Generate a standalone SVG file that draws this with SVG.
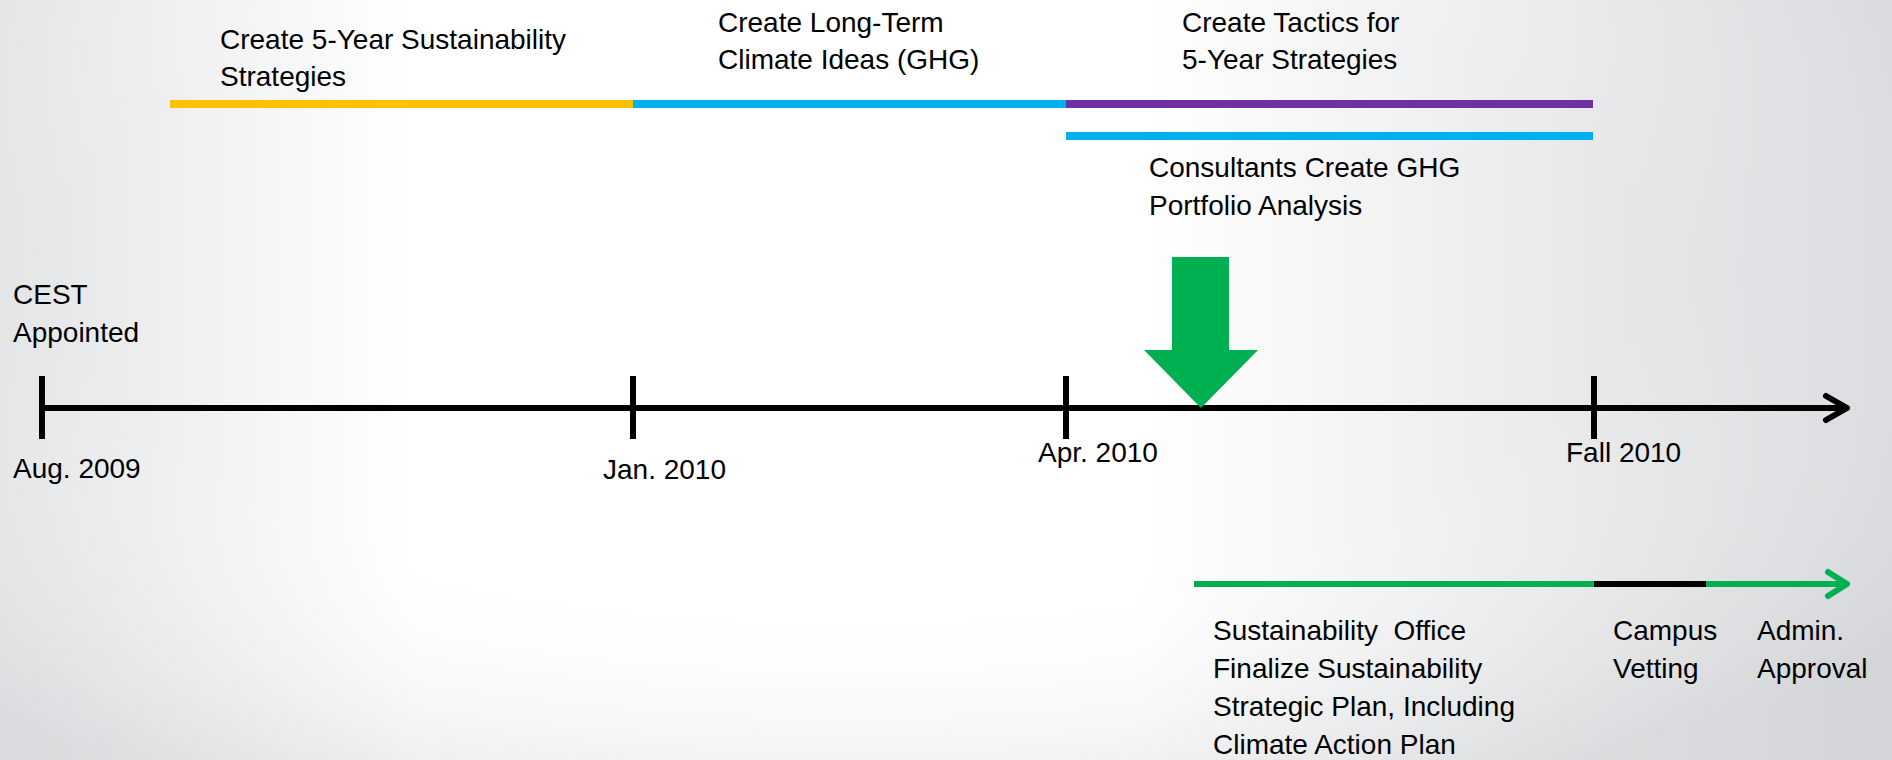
<svg xmlns="http://www.w3.org/2000/svg" width="1892" height="760" viewBox="0 0 1892 760">
<style>
text{font-family:"Liberation Sans",Arial,sans-serif;font-size:28px;fill:#000}
.axis{stroke:#000;stroke-width:6;fill:none}
.bar{stroke-width:8;fill:none}
</style>
<defs>
<linearGradient id="bg" x1="0" y1="0" x2="1" y2="0">
<stop offset="0" stop-color="#E3E4E6"/>
<stop offset="0.22" stop-color="#FFFFFF"/>
<stop offset="0.6" stop-color="#FFFFFF"/>
<stop offset="1" stop-color="#D8D9DC"/>
</linearGradient>
<radialGradient id="bg2" cx="0.45" cy="0.35" r="0.75">
<stop offset="0.55" stop-color="#FFFFFF" stop-opacity="0"/>
<stop offset="1" stop-color="#D0D1D4" stop-opacity="0.5"/>
</radialGradient>
</defs>
<rect width="1892" height="760" fill="url(#bg)"/>
<rect width="1892" height="760" fill="url(#bg2)"/>

<g id="connectors">
<line class="axis" x1="42" y1="408" x2="1846" y2="408"/>
<polyline class="axis" points="1826,396 1847,408 1826,420" stroke-linejoin="round" stroke-linecap="round"/>
<line class="axis" x1="42" y1="376" x2="42" y2="439"/>
<line class="axis" x1="633" y1="376" x2="633" y2="439"/>
<line class="axis" x1="1066" y1="376" x2="1066" y2="439"/>
<line class="axis" x1="1594" y1="376" x2="1594" y2="439"/>
<polygon points="1172,257 1229,257 1229,350 1258,350 1201,408 1144,350 1172,350" fill="#00B050"/>
<line x1="1194" y1="584" x2="1594" y2="584" stroke="#00B050" stroke-width="6"/>
<line x1="1594" y1="584" x2="1706" y2="584" stroke="#000" stroke-width="6"/>
<line x1="1706" y1="584" x2="1845" y2="584" stroke="#00B050" stroke-width="6"/>
<polyline points="1828,572 1847,584 1828,596" fill="none" stroke="#00B050" stroke-width="6" stroke-linejoin="round" stroke-linecap="round"/>
</g>

<g id="phase-strategies">
<line class="bar" x1="170" y1="104" x2="633" y2="104" stroke="#FFC000"/>
<text x="220" y="49">Create 5-Year Sustainability</text>
<text x="220" y="86">Strategies</text>
</g>
<g id="phase-climate">
<line class="bar" x1="633" y1="104" x2="1066" y2="104" stroke="#00B0F0"/>
<text x="718" y="32">Create Long-Term</text>
<text x="718" y="69">Climate Ideas (GHG)</text>
</g>
<g id="phase-tactics">
<line class="bar" x1="1066" y1="104" x2="1593" y2="104" stroke="#7030A0"/>
<text x="1182" y="32">Create Tactics for</text>
<text x="1182" y="69">5-Year Strategies</text>
</g>
<g id="phase-consultants">
<line class="bar" x1="1066" y1="136" x2="1593" y2="136" stroke="#00B0F0"/>
<text x="1149" y="177">Consultants Create GHG</text>
<text x="1149" y="215">Portfolio Analysis</text>
</g>
<g id="milestone-cest">
<text x="13" y="304">CEST</text>
<text x="13" y="342">Appointed</text>
</g>
<g id="date-aug2009"><text x="13" y="478">Aug. 2009</text></g>
<g id="date-jan2010"><text x="603" y="479">Jan. 2010</text></g>
<g id="date-apr2010"><text x="1038" y="462">Apr. 2010</text></g>
<g id="date-fall2010"><text x="1566" y="462">Fall 2010</text></g>
<g id="step-finalize">
<text x="1213" y="640" xml:space="preserve">Sustainability  Office</text>
<text x="1213" y="678">Finalize Sustainability</text>
<text x="1213" y="716">Strategic Plan, Including</text>
<text x="1213" y="754">Climate Action Plan</text>
</g>
<g id="step-vetting">
<text x="1613" y="640">Campus</text>
<text x="1613" y="678">Vetting</text>
</g>
<g id="step-approval">
<text x="1757" y="640">Admin.</text>
<text x="1757" y="678">Approval</text>
</g>
</svg>
